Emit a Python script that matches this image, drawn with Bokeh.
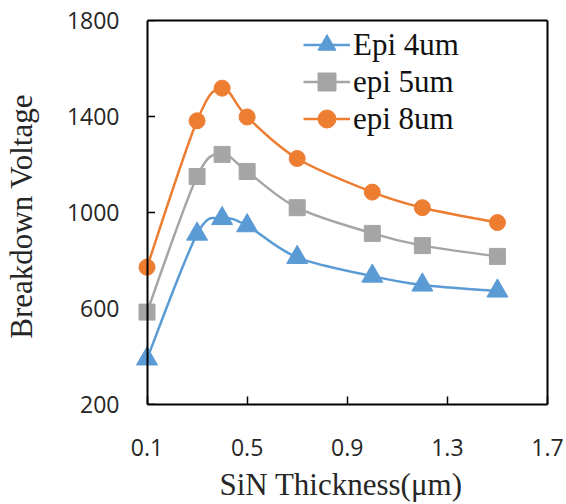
from bokeh.plotting import figure
from bokeh.models import (Range1d, FixedTicker, Legend, LegendItem, ColumnDataSource,
                          LinearAxis)
from bokeh.embed import file_html
from bokeh.resources import INLINE

# Data
thickness = [0.1, 0.3, 0.4, 0.5, 0.7, 1.0, 1.2, 1.5]
epi4 = [390, 910, 975, 945, 813, 735, 698, 673]
epi5 = [585, 1150, 1242, 1171, 1020, 913, 862, 817]
epi8 = [772, 1382, 1518, 1398, 1225, 1085, 1020, 958]
series_names = ["Epi 4um", "epi 5um", "epi 8um"]
x_ticks = [0.1, 0.5, 0.9, 1.3, 1.7]
y_ticks = [200, 600, 1000, 1400, 1800]
x_min, x_max = 0.1, 1.7
y_min, y_max = 200, 1800

colors = ["#5B9BD5", "#A5A5A5", "#ED7D31"]
markers = ["triangle", "square", "circle"]
msizes = [21, 16, 16]

# a little room left of the y axis so the markers at x=0.1 are not cut
pad = 0.05
tick_len = 0.032  # inward y tick length, in x data units (about 8 px)
p = figure(width=566, height=504, output_backend="svg", toolbar_location=None,
           x_range=Range1d(x_min - pad, x_max), y_range=Range1d(y_min, y_max),
           min_border_left=131, min_border_right=19, min_border_top=20, min_border_bottom=96)
p.grid.visible = False
p.outline_line_color = None
p.background_fill_color = "white"
p.border_fill_color = "white"

xax = p.xaxis[0]
yax = p.yaxis[0]
xax.ticker = FixedTicker(ticks=x_ticks)
yax.ticker = FixedTicker(ticks=y_ticks)
xax.bounds = (x_min, x_max)
for ax in (xax, yax):
    ax.major_tick_in = 8
    ax.major_tick_out = 0
    ax.minor_tick_line_color = None
    ax.axis_line_color = "black"
    ax.axis_line_width = 2
    ax.major_tick_line_color = "black"
    ax.major_tick_line_width = 1.5
    ax.major_label_text_font = "Open Sans"
    ax.major_label_text_font_size = "23px"
    ax.major_label_text_color = "#262626"
    ax.axis_label_text_font = "Liberation Serif"
    ax.axis_label_text_font_size = "31px"
    ax.axis_label_text_font_style = "normal"
    ax.axis_label_text_color = "#262626"

xax.axis_label = "SiN Thickness(\u03bcm)"
yax.axis_label = "Breakdown  Voltage"
xax.major_label_standoff = 34
xax.axis_label_standoff = 8
# y labels stay in the left panel; the y axis line and ticks are drawn at x = 0.1
yax.axis_line_color = None
yax.major_tick_line_color = None
yax.major_tick_in = 0
yax.major_label_standoff = 15
yax.axis_label_standoff = 25


def frame_line(**kw):
    return LinearAxis(ticker=FixedTicker(ticks=[]), axis_line_color="black",
                      axis_line_width=2, major_tick_line_color=None,
                      minor_tick_line_color=None, **kw)

p.add_layout(frame_line(fixed_location=x_min), "left")
p.add_layout(frame_line(bounds=(x_min, x_max)), "above")
p.add_layout(frame_line(bounds=(y_min, y_max)), "right")
p.segment(x0=[x_min] * len(y_ticks), y0=y_ticks,
          x1=[x_min + tick_len] * len(y_ticks), y1=y_ticks,
          line_color="black", line_width=1.5)


def bezier_src(xs, ys, t=1.0 / 6):
    n = len(xs)
    d = dict(x0=[], y0=[], x1=[], y1=[], cx0=[], cy0=[], cx1=[], cy1=[])
    for i in range(n - 1):
        im = max(i - 1, 0)
        ip2 = min(i + 2, n - 1)
        d["x0"].append(xs[i]); d["y0"].append(ys[i])
        d["x1"].append(xs[i + 1]); d["y1"].append(ys[i + 1])
        d["cx0"].append(xs[i] + (xs[i + 1] - xs[im]) * t)
        d["cy0"].append(ys[i] + (ys[i + 1] - ys[im]) * t)
        d["cx1"].append(xs[i + 1] - (xs[ip2] - xs[i]) * t)
        d["cy1"].append(ys[i + 1] - (ys[ip2] - ys[i]) * t)
    return ColumnDataSource(d)

legend_bottoms = [337, 300, 263]
for ys, name, c, m, s, lb in zip([epi4, epi5, epi8], series_names, colors, markers,
                                 msizes, legend_bottoms):
    b = p.bezier(x0="x0", y0="y0", x1="x1", y1="y1", cx0="cx0", cy0="cy0",
                 cx1="cx1", cy1="cy1", source=bezier_src(thickness, ys),
                 line_color=c, line_width=2.5)
    sc = p.scatter(thickness, ys, marker=m, size=s, fill_color=c, line_color=c)
    leg = Legend(items=[LegendItem(label=name, renderers=[b, sc])],
                 location=(169, lb), orientation="vertical",
                 label_text_font="Liberation Serif", label_text_font_size="31px",
                 label_text_color="#111111", glyph_width=47, glyph_height=45,
                 label_height=45, spacing=0, padding=0, margin=0,
                 border_line_color=None, background_fill_alpha=0, label_standoff=3)
    p.add_layout(leg)

open("out.html", "w").write(file_html(p, INLINE))
